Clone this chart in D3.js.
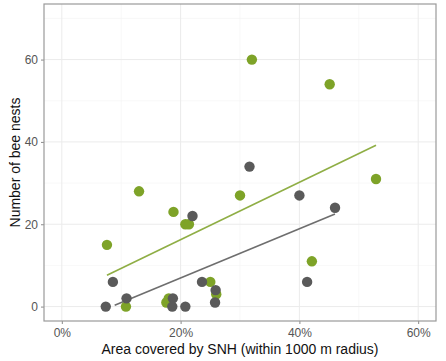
<!DOCTYPE html>
<html><head><meta charset="utf-8">
<script src="https://cdn.jsdelivr.net/npm/d3@7"></script>
<style>body{margin:0;background:#fff;font-family:"Liberation Sans",Arial,sans-serif;}</style>
</head><body><svg id="c" width="446" height="361"></svg>
<script>
// SNH share (%) and bee nest counts, two groups
const grayX = [7.4, 8.6, 10.9, 18.7, 18.6, 20.8, 22.0, 23.6, 25.9, 25.8, 31.6, 40.0, 41.3, 46.0];
const grayY = [0, 6, 2, 2, 0, 0, 22, 6, 4, 1, 34, 27, 6, 24];
const greenX = [7.6, 10.8, 13.0, 18.8, 17.6, 18.0, 20.8, 21.4, 25.0, 26.0, 30.0, 32.0, 42.1, 45.1, 52.9];
const greenY = [15, 0, 28, 23, 1, 2, 20, 20, 6, 3, 27, 60, 11, 54, 31];
// fitted line endpoints [x%, y]
const grayFitX = [8.9, 46.0];
const grayFitY = [0.3, 22.5];
const greenFitX = [7.6, 52.9];
const greenFitY = [7.6, 39.2];
const xTicks = [0, 20, 40, 60];
const yTicks = [0, 20, 40, 60];
const xMinor = [10, 30, 50];
const yMinor = [10, 30, 50, 70];

const L = 44, R = 436, T = 4, B = 321;
const x = d3.scaleLinear().domain([-3, 63]).range([L, R]);
const y = d3.scaleLinear().domain([-3.5, 73.5]).range([B, T]);
const svg = d3.select("#c");
const GREEN = "#7ea328", GRAY = "#5a5a5a";
const FONT = "'Liberation Sans', Arial, sans-serif";

const g = svg.append("g");
g.selectAll(".vm").data(xMinor).enter().append("line")
 .attr("x1", d => x(d)).attr("x2", d => x(d)).attr("y1", T).attr("y2", B)
 .attr("stroke", "#f4f4f4").attr("stroke-width", 0.6);
g.selectAll(".hm").data(yMinor).enter().append("line")
 .attr("y1", d => y(d)).attr("y2", d => y(d)).attr("x1", L).attr("x2", R)
 .attr("stroke", "#f4f4f4").attr("stroke-width", 0.6);
g.selectAll(".vM").data(xTicks).enter().append("line")
 .attr("x1", d => x(d)).attr("x2", d => x(d)).attr("y1", T).attr("y2", B)
 .attr("stroke", "#ebebeb").attr("stroke-width", 1);
g.selectAll(".hM").data(yTicks).enter().append("line")
 .attr("y1", d => y(d)).attr("y2", d => y(d)).attr("x1", L).attr("x2", R)
 .attr("stroke", "#ebebeb").attr("stroke-width", 1);

// axes
const xAxis = d3.axisBottom(x).tickValues(xTicks).tickFormat(d => d + "%").tickSize(3).tickPadding(4);
const yAxis = d3.axisLeft(y).tickValues(yTicks).tickSize(3).tickPadding(3);
const xa = svg.append("g").attr("transform", `translate(0,${B})`).call(xAxis);
const ya = svg.append("g").attr("transform", `translate(${L},0)`).call(yAxis);
[xa, ya].forEach(a => {
  a.select(".domain").remove();
  a.selectAll(".tick line").attr("stroke", "#8a8a8a");
  a.selectAll("text").attr("fill", "#555").style("font-size", "12px").style("font-family", FONT);
});

// fit lines
const line = d3.line().x(d => x(d[0])).y(d => y(d[1]));
svg.append("path").datum(greenFitX.map((v, i) => [v, greenFitY[i]])).attr("d", line)
 .attr("stroke", "#8fae45").attr("stroke-width", 1.6).attr("fill", "none");
svg.append("path").datum(grayFitX.map((v, i) => [v, grayFitY[i]])).attr("d", line)
 .attr("stroke", "#6e6e6e").attr("stroke-width", 1.6).attr("fill", "none");

// points
svg.append("g").selectAll("circle").data(greenX.map((v, i) => [v, greenY[i]])).enter().append("circle")
 .attr("cx", d => x(d[0])).attr("cy", d => y(d[1])).attr("r", 5.2).attr("fill", GREEN);
svg.append("g").selectAll("circle").data(grayX.map((v, i) => [v, grayY[i]])).enter().append("circle")
 .attr("cx", d => x(d[0])).attr("cy", d => y(d[1])).attr("r", 5.2).attr("fill", GRAY);

// panel border
svg.append("rect").attr("x", L).attr("y", T).attr("width", R - L).attr("height", B - T)
 .attr("fill", "none").attr("stroke", "#9a9a9a").attr("stroke-width", 1.2);

// titles
svg.append("text").attr("x", (L + R) / 2).attr("y", 354).attr("text-anchor", "middle")
 .style("font-size", "14px").style("font-family", FONT).attr("fill", "#111").text("Area covered by SNH (within 1000 m radius)");
svg.append("text").attr("transform", `translate(20,${(T + B) / 2}) rotate(-90)`).attr("text-anchor", "middle")
 .style("font-size", "14px").style("font-family", FONT).attr("fill", "#111").text("Number of bee nests");
</script></body></html>
